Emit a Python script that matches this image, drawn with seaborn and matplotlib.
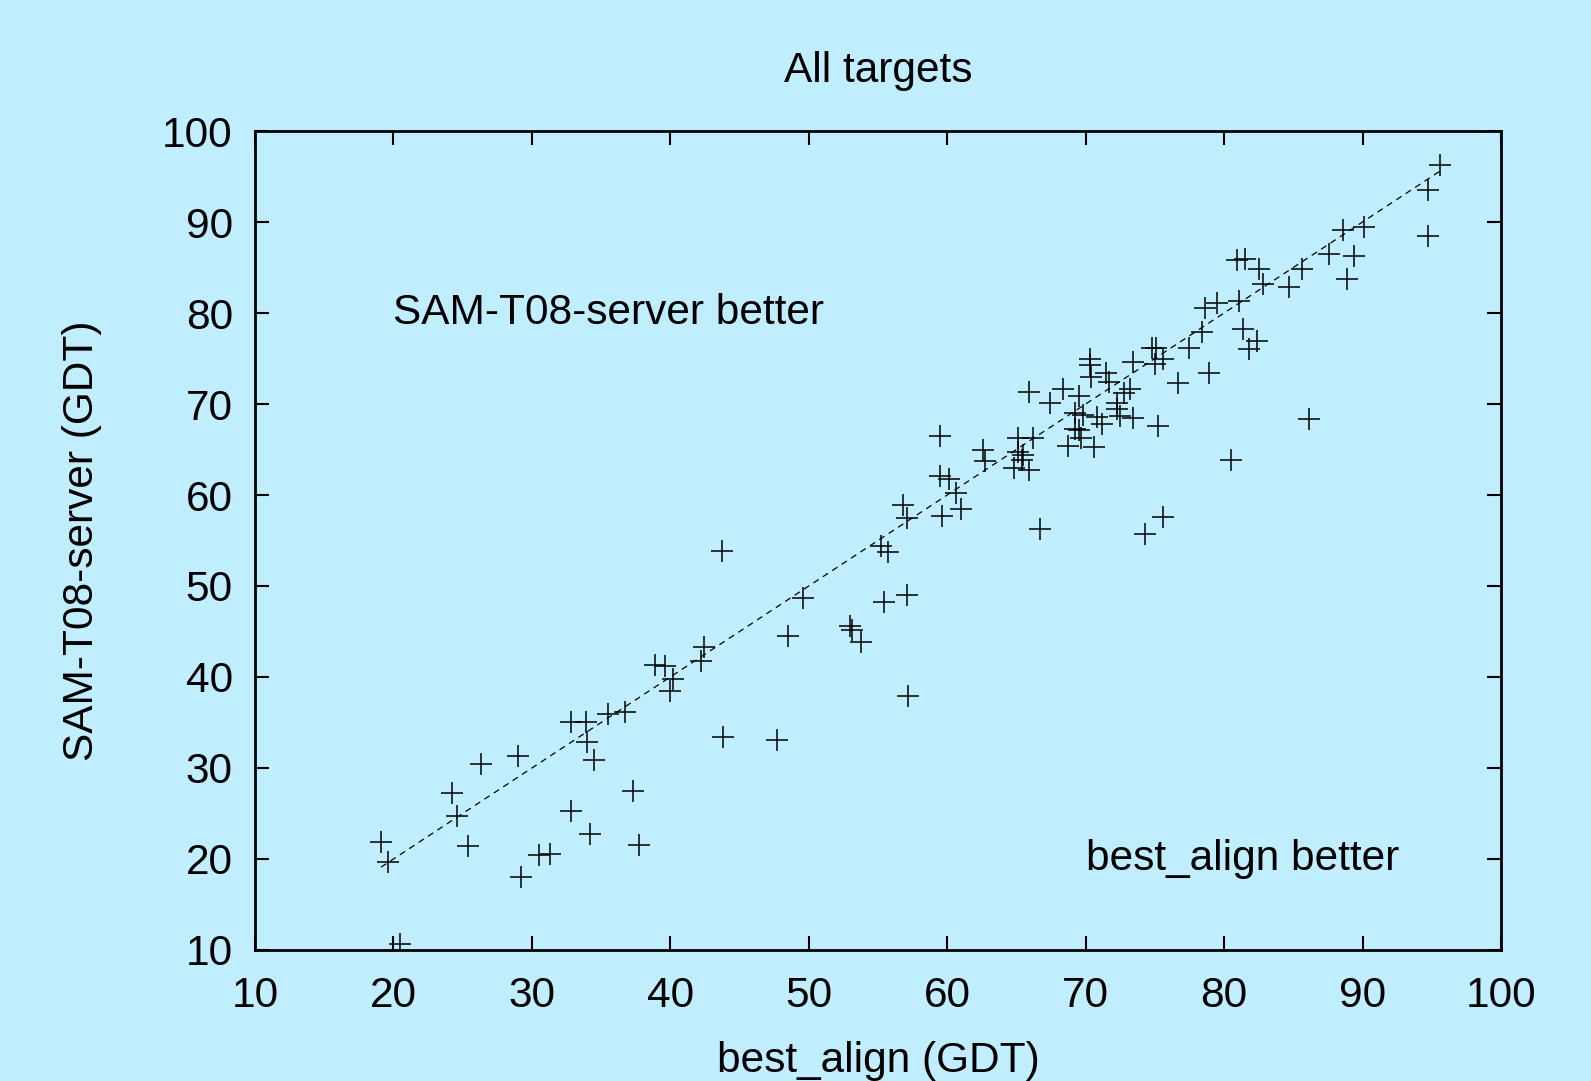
import numpy as np
import pandas as pd
import matplotlib
matplotlib.use("Agg")
import matplotlib.pyplot as plt
import seaborn as sns

# best_align GDT (x) vs SAM-T08-server GDT (y)
best_align = [19.1, 19.6, 20.5, 24.2, 24.6, 25.4, 26.3, 29.0, 29.2, 30.5,
              31.3, 32.8, 32.8, 33.9, 34.0, 34.2, 34.5, 35.5, 36.7, 37.3,
              37.7, 38.9, 39.6, 40.0, 40.2, 42.2, 42.4, 43.7, 43.8, 47.7,
              48.5, 49.6, 53.0, 53.1, 53.8, 55.2, 55.7, 55.4, 57.1, 57.2,
              56.8, 57.1, 59.5, 59.5, 60.1, 59.6, 60.6, 61.0, 62.6, 62.7,
              64.8, 65.1, 65.1, 65.4, 65.5, 65.9, 65.9, 66.2, 66.7, 67.4,
              68.4, 68.7, 69.2, 69.2, 69.5, 69.5, 69.7, 69.8, 70.3, 70.3,
              70.4, 70.6, 70.8, 71.2, 71.5, 71.7, 72.3, 72.3, 72.5, 72.8,
              73.2, 73.4, 73.4, 74.3, 74.8, 75.1, 75.0, 75.2, 75.6, 75.6,
              76.7, 77.5, 78.4, 78.6, 78.9, 79.5, 80.5, 80.9, 81.5, 81.1,
              81.4, 81.8, 82.5, 82.8, 82.4, 84.7, 85.6, 86.1, 87.6, 88.6,
              88.9, 89.4, 90.1, 94.7, 94.7, 95.6]
sam_t08 = [21.9, 19.7, 10.7, 27.3, 24.7, 21.4, 30.4, 31.3, 18.0, 20.4,
           20.6, 35.1, 25.3, 35.1, 32.9, 22.7, 30.9, 35.9, 36.1, 27.5,
           21.5, 41.3, 41.2, 38.5, 39.8, 41.8, 43.3, 53.9, 33.4, 33.1,
           44.5, 48.7, 45.6, 45.2, 43.8, 54.4, 53.7, 48.2, 49.0, 37.9,
           58.9, 57.5, 66.5, 62.1, 61.8, 57.7, 60.2, 58.5, 64.9, 63.7,
           63.0, 66.3, 64.7, 63.9, 64.4, 62.7, 71.3, 66.3, 56.3, 70.1,
           71.7, 65.4, 69.0, 67.2, 70.9, 67.1, 66.3, 68.8, 75.0, 74.3,
           73.0, 65.3, 68.6, 67.8, 73.4, 72.4, 70.1, 69.4, 68.7, 71.2,
           71.7, 74.6, 68.5, 55.7, 76.2, 76.1, 74.4, 67.6, 75.0, 57.6,
           72.3, 76.2, 77.9, 80.6, 73.4, 81.1, 63.8, 85.8, 85.9, 81.3,
           78.2, 76.0, 84.8, 83.2, 76.9, 82.9, 84.8, 68.4, 86.5, 89.1,
           83.7, 86.3, 89.5, 93.5, 88.5, 96.3]

ticks = [10, 20, 30, 40, 50, 60, 70, 80, 90, 100]

df = pd.DataFrame({"best_align": best_align, "sam": sam_t08})

sns.set_style("ticks")
bg = "#c0eeff"
plt.rcParams["font.family"] = ["Liberation Sans", "DejaVu Sans"]
plt.rcParams["text.color"] = "black"
plt.rcParams["axes.labelcolor"] = "black"

fig = plt.figure(figsize=(15.91, 10.81), dpi=100, facecolor=bg)
ax = fig.add_axes([0.1603, 0.1212, 0.7831, 0.7576])
ax.set_facecolor(bg)

# diagonal y = x over the data range
lo, hi = df["best_align"].min(), df["best_align"].max()
ax.plot([lo, hi], [lo, hi], ls=(0, (5, 4)), color="black", lw=0.9)

sns.scatterplot(data=df, x="best_align", y="sam", marker="+", s=230,
                color="black", linewidth=1.1, ax=ax, legend=False)

fs = 30.5
ax.set_xlim(10, 100)
ax.set_ylim(10, 100)
ax.set_xticks(ticks)
ax.set_yticks(ticks)
ax.tick_params(axis="x", pad=19)
ax.tick_params(axis="y", pad=16)
ax.tick_params(direction="in", length=10, width=1.5, top=True, right=True,
               labelsize=fs, colors="black")
for sp in ax.spines.values():
    sp.set_linewidth(2)
    sp.set_color("black")

ax.set_xlabel("best_align (GDT)", fontsize=fs, labelpad=18)
ax.set_ylabel("SAM-T08-server (GDT)", fontsize=fs, labelpad=43)
ax.set_title("All targets", fontsize=fs, pad=35)

ax.text(20, 80, "SAM-T08-server better", fontsize=fs, va="center", ha="left")
ax.text(70, 20, "best_align better", fontsize=fs, va="center", ha="left")

fig.savefig("out.png", dpi=100, facecolor=bg)
